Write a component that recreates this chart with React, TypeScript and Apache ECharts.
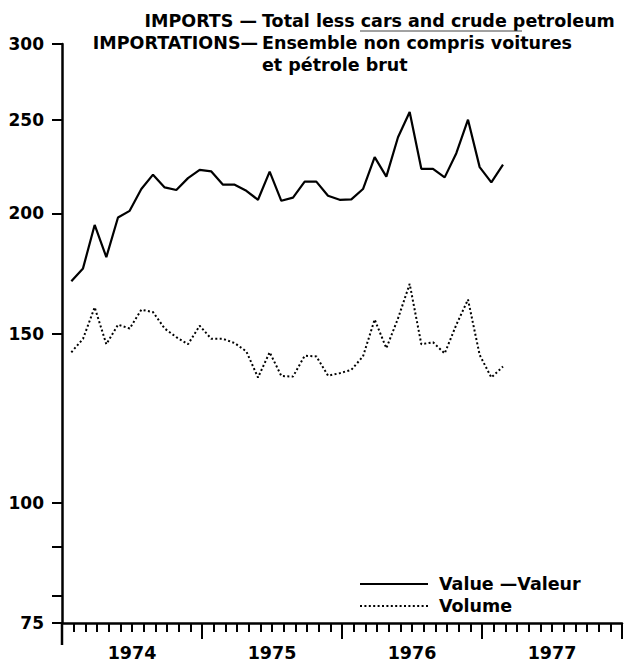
import React, { useEffect, useRef } from "react";
import * as echarts from "echarts";

// Monthly series, Jan 1974 – Feb 1977
const valueSeries = [
  170.0, 175.3, 194.5, 180.1, 198.0, 201.2, 212.0, 219.4, 212.8, 211.5, 217.6, 221.9,
  221.1, 214.2, 214.2, 211.1, 206.6, 221.0, 206.1, 207.7, 215.8, 215.8, 208.6, 206.6,
  206.8, 212.0, 228.8, 218.4, 240.0, 254.9, 222.5, 222.5, 218.0, 231.0, 250.3, 223.4,
  215.4, 224.7,
];
const volumeSeries = [
  143.4, 148.1, 159.7, 146.2, 153.2, 151.8, 158.8, 157.9, 151.8, 148.7, 146.2, 152.8,
  148.1, 148.1, 146.6, 143.7, 135.0, 143.4, 135.5, 135.3, 142.2, 142.0, 135.6, 136.4,
  137.5, 142.0, 155.1, 144.8, 155.5, 168.9, 146.2, 146.9, 143.0, 153.2, 162.7, 142.5,
  135.0, 138.6,
];
const years = ["1974", "1975", "1976", "1977"];
const yTickValues = [75, 80, 90, 100, 150, 200, 250, 300];
const yLabelValues = [75, 100, 150, 200, 250, 300];
const seriesNames = ["Value \u2014Valeur", "Volume"];

const FONT = "DejaVu Sans";
const MONTH_OFFSET = 0.8;

export default function App() {
  const ref = useRef<HTMLDivElement>(null);

  useEffect(() => {
    if (!ref.current) return;
    const chart = echarts.init(ref.current, undefined, { renderer: "svg" });
    const textBase = {
      fontFamily: FONT,
      fontWeight: 700,
      fill: "#000",
      fontSize: 17.5,
      verticalAlign: "middle" as const,
    };
    chart.setOption({
      animation: false,
      backgroundColor: "#fff",
      grid: { left: 62, right: 9, top: 44, bottom: 47 },
      xAxis: {
        type: "value",
        min: 0,
        max: years.length * 12,
        interval: 12,
        axisLine: { show: true, lineStyle: { color: "#000", width: 2.5 } },
        axisTick: { show: true, length: 16, lineStyle: { color: "#000", width: 2 } },
        minorTick: { show: true, splitNumber: 12, length: 9, lineStyle: { color: "#000", width: 2 } },
        splitLine: { show: false },
        axisLabel: {
          customValues: years.map((_, i) => i * 12 + 6),
          formatter: (v: number) => years[Math.round((v - 6) / 12)] ?? "",
          color: "#000",
          fontFamily: FONT,
          fontWeight: 700,
          fontSize: 17.5,
          margin: 21,
        },
      },
      yAxis: {
        type: "log",
        logBase: 10,
        min: 75,
        max: 300,
        axisLine: { show: true, lineStyle: { color: "#000", width: 2.5 } },
        axisTick: {
          show: true,
          length: 10,
          customValues: yTickValues,
          lineStyle: { color: "#000", width: 2 },
        },
        splitLine: { show: false },
        minorTick: { show: false },
        axisLabel: {
          customValues: yLabelValues,
          formatter: (v: number) => "{b|" + String(Math.round(v)) + "}",
          color: "#000",
          fontFamily: FONT,
          fontWeight: 700,
          fontSize: 17,
          margin: 18,
          rich: {
            b: { color: "#000", fontFamily: FONT, fontWeight: 700, fontSize: 17 },
          },
        },
      },
      legend: {
        orient: "vertical",
        left: 359,
        top: 574,
        padding: 0,
        itemWidth: 68,
        itemHeight: 14,
        itemGap: 2,
        data: seriesNames,
        itemStyle: { opacity: 0 },
        textStyle: {
          color: "#000",
          fontFamily: FONT,
          fontWeight: 700,
          fontSize: 17.5,
          lineHeight: 20,
          padding: [0, 0, 0, 6],
        },
      },
      series: [
        {
          name: seriesNames[0],
          type: "line",
          symbol: "none",
          data: valueSeries.map((v, i) => [i + MONTH_OFFSET, v]),
          lineStyle: { color: "#000", width: 2.2, type: "solid" },
          itemStyle: { color: "#000" },
        },
        {
          name: seriesNames[1],
          type: "line",
          symbol: "none",
          data: volumeSeries.map((v, i) => [i + MONTH_OFFSET, v]),
          lineStyle: { color: "#000", width: 2, type: [2, 2.4] },
          itemStyle: { color: "#000" },
        },
      ],
      graphic: [
        { type: "text", x: 257, y: 21, style: { ...textBase, text: "IMPORTS \u2014", align: "right" } },
        { type: "text", x: 262, y: 21, style: { ...textBase, text: "Total less cars and crude petroleum", align: "left" } },
        { type: "text", x: 258, y: 43, style: { ...textBase, text: "IMPORTATIONS\u2014", align: "right" } },
        { type: "text", x: 262, y: 43, style: { ...textBase, text: "Ensemble non compris voitures", align: "left" } },
        { type: "text", x: 262, y: 65, style: { ...textBase, text: "et pétrole brut", align: "left" } },
        {
          type: "line",
          shape: { x1: 360, y1: 31, x2: 522, y2: 31 },
          style: { stroke: "#444", lineWidth: 1 },
        },
        {
          type: "line",
          shape: { x1: 62, y1: 623, x2: 62, y2: 645 },
          style: { stroke: "#000", lineWidth: 2.5 },
        },
      ],
    });
    return () => chart.dispose();
  }, []);

  return (
    <div
      ref={ref}
      style={{ position: "fixed", left: 0, top: 0, width: 631, height: 670, background: "#fff" }}
    />
  );
}
